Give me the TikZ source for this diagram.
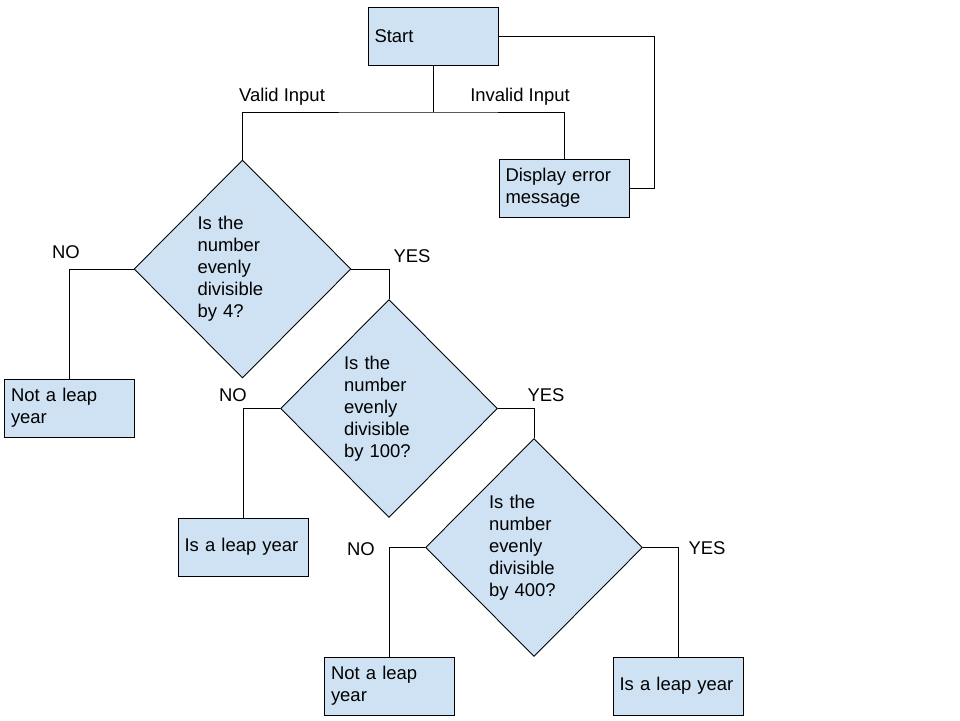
\documentclass[tikz,border=0pt]{standalone}
\usepackage{fontspec}
\setmainfont{Liberation Sans}
\usepackage{tikz}
\usetikzlibrary{shapes.geometric}
\definecolor{boxblue}{HTML}{CFE2F3}

\begin{document}
\begin{tikzpicture}[x=0.02cm,y=-0.02cm,
font=\fontsize{10.5}{12.5}\selectfont,line width=0.5pt,
stepbox/.style={draw,fill=boxblue,rectangle,text width=2.34cm,align=left,
  inner xsep=0.13cm,inner ysep=0pt,minimum width=2.6cm,minimum height=1.16cm},
decision/.style={draw,fill=boxblue,diamond,text width=1.8cm,align=left,
  inner sep=0pt,minimum width=4.34cm,minimum height=4.36cm}]
\useasboundingbox (0,0) rectangle (960,720);
% boxes
\node[stepbox] (start) at (433,36.5){Start};
\node[stepbox] (err) at (564,188){Display error\\message};
\node[decision] (d1) at (242.5,269){Is the\\number\\evenly\\divisible\\by 4?};
\node[decision] (d2) at (389,408.5){Is the\\number\\evenly\\divisible\\by 100?};
\node[decision] (d3) at (534,547.5){Is the\\number\\evenly\\divisible\\by 400?};
\node[stepbox] (notleap1) at (69.5,408){Not a leap\\year};
\node[stepbox] (leap1) at (243,547){Is a leap year};
\node[stepbox] (notleap2) at (389.5,686){Not a leap\\year};
\node[stepbox] (leap2) at (678,686){Is a leap year};
% connectors
\coordinate (split) at (433,112);
\coordinate (errloop) at (654,188);
\draw (start.south) -- (split);
\draw (d1.north) |- (split) -| (err.north);
\draw (start.east) -| (errloop) -- (err.east);
\draw (d1.west) -| (notleap1.north);
\draw (d1.east) -| (d2.north);
\draw (d2.west) -| (leap1.north);
\draw (d2.east) -| (d3.north);
\draw (d3.west) -| (notleap2.north);
\draw (d3.east) -| (leap2.north);
% labels
\node (valid) at (282,97){Valid Input};
\node (invalid) at (520,97){Invalid Input};
\node (no1) at (66,252){NO};
\node (yes1) at (412,256){YES};
\node (no2) at (233,395){NO};
\node (yes2) at (546,395){YES};
\node (no3) at (361,549){NO};
\node (yes3) at (707,548){YES};
\end{tikzpicture}
\end{document}
